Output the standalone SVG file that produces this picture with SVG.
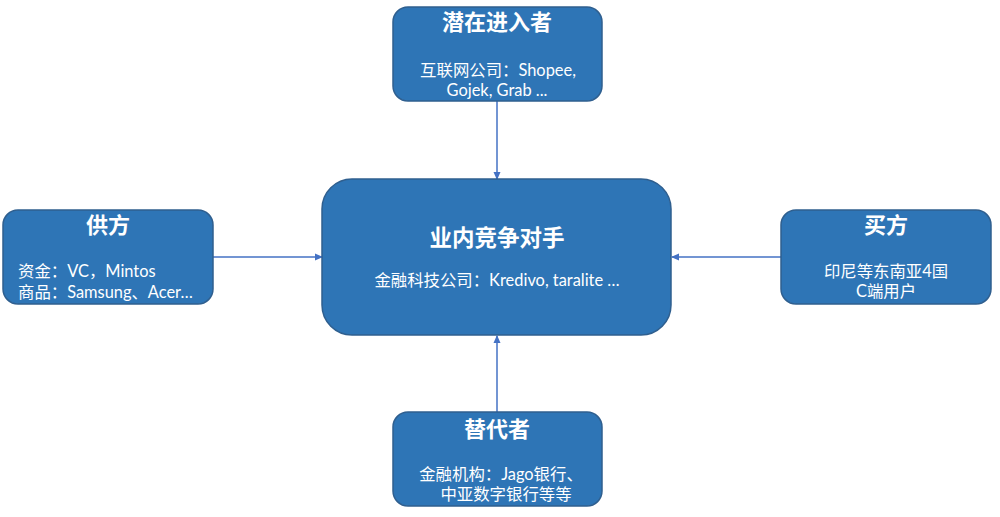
<svg xmlns="http://www.w3.org/2000/svg" width="1000" height="517" viewBox="0 0 1000 517">
<style>
.box{fill:#2E75B6;stroke:#2F5F8F;stroke-width:1.5}
.t{fill:#fff;font-family:Lato,"Noto Sans CJK SC",sans-serif;font-weight:bold;font-size:22px;text-anchor:middle}
.s{fill:#fff;font-family:Lato,"Noto Sans CJK SC",sans-serif;font-size:16.4px;text-anchor:middle}
.l{text-anchor:start}
.c{stroke:#4472C4;stroke-width:1.5;fill:none;marker-end:url(#a)}
</style>
<defs>
<marker id="a" markerWidth="8" markerHeight="8" refX="7" refY="4" orient="auto" markerUnits="userSpaceOnUse">
<path d="M0,0.5 L8,4 L0,7.5 z" fill="#4472C4"/>
</marker>
</defs>
<g id="connectors">
<line class="c" x1="497" y1="101" x2="497" y2="179"/>
<line class="c" x1="497" y1="412" x2="497" y2="336"/>
<line class="c" x1="213" y1="257" x2="322" y2="257"/>
<line class="c" x1="781" y1="257" x2="672" y2="257"/>
</g>
<g id="top">
<rect class="box" x="393" y="7" width="209" height="94" rx="15"/>
<text class="t" x="497" y="30">潜在进入者</text>
<text class="s" x="498" y="76">互联网公司：Shopee,</text>
<text class="s" x="497" y="96">Gojek, Grab ...</text>
</g>
<g id="left">
<rect class="box" x="3" y="210" width="210" height="94" rx="15"/>
<text class="t" x="108" y="233">供方</text>
<text class="s l" x="18" y="277">资金：VC，Mintos</text>
<text class="s l" x="18" y="298">商品：Samsung、Acer…</text>
</g>
<g id="right">
<rect class="box" x="781" y="210" width="210" height="94" rx="15"/>
<text class="t" x="886" y="233">买方</text>
<text class="s" x="886" y="277">印尼等东南亚4国</text>
<text class="s" x="886" y="297">C端用户</text>
</g>
<g id="bottom">
<rect class="box" x="393" y="412" width="209" height="94" rx="15"/>
<text class="t" x="497" y="437">替代者</text>
<text class="s" x="501" y="480">金融机构：Jago银行、</text>
<text class="s" x="506" y="500">中亚数字银行等等</text>
</g>
<g id="center">
<rect class="box" x="322" y="179" width="349" height="156" rx="30"/>
<text class="t" x="497" y="246" style="font-size:22.5px">业内竞争对手</text>
<text class="s" x="497" y="286">金融科技公司：Kredivo, taralite …</text>
</g>
</svg>
